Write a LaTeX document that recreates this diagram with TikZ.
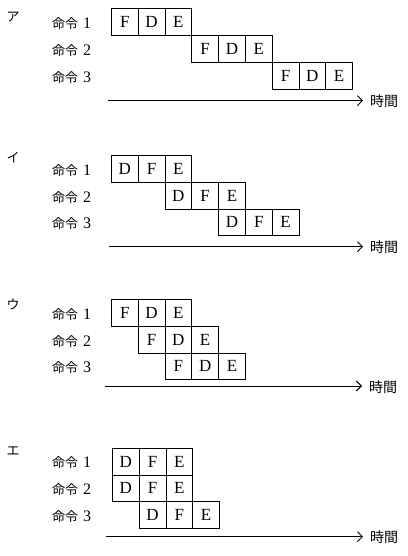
\documentclass[tikz,border=0pt]{standalone}
\usepackage{fontspec}
\newfontfamily\jp{Noto Sans CJK JP}
\newfontfamily\lat{Liberation Serif}
\usetikzlibrary{arrows.meta}
\begin{document}
\begin{tikzpicture}[x=1pt,y=-1pt,
  cell/.style={draw, line width=0.7pt, minimum width=26.8pt, minimum height=26.8pt, inner sep=0pt, anchor=north west, font=\lat\fontsize{17}{17}\selectfont},
  lbl/.style={anchor=west, inner sep=0pt, font=\fontsize{13}{13}\selectfont},
  kana/.style={inner sep=0pt, font=\jp\fontsize{13}{13}\selectfont},
  axis/.style={line width=0.9pt, -{Straight Barb[length=5pt,width=10pt,line width=0.9pt]}},
  tm/.style={anchor=west, inner sep=0pt, font=\jp\fontsize{14}{14}\selectfont}]
\useasboundingbox (0,0) rectangle (407,556);
\newcommand{\mylbl}[1]{{\jp 命令}\hspace{5pt}{\lat\fontsize{16}{16}\selectfont #1}}
% ---------- ア ----------
\node[kana] (ak) at (13,17) {ア};
\node[lbl] (al1) at (52,24) {\mylbl{1}};
\node[lbl] (al2) at (52,50.7) {\mylbl{2}};
\node[lbl] (al3) at (52,77.5) {\mylbl{3}};
\node[cell] (a11) at (111,8.5) {F};
\node[cell] (a12) at (137.8,8.5) {D};
\node[cell] (a13) at (164.6,8.5) {E};
\node[cell] (a21) at (191.4,35.3) {F};
\node[cell] (a22) at (218.2,35.3) {D};
\node[cell] (a23) at (245,35.3) {E};
\node[cell] (a31) at (271.8,62.1) {F};
\node[cell] (a32) at (298.6,62.1) {D};
\node[cell] (a33) at (325.4,62.1) {E};
\coordinate (as) at (108,100.7);
\coordinate (ae) at (363,100.7);
\draw[axis] (as) -- (ae);
\node[tm] (at) at (370,101.5) {時間};
% ---------- イ ----------
\node[kana] (bk) at (13,158) {イ};
\node[lbl] (bl1) at (52,170.4) {\mylbl{1}};
\node[lbl] (bl2) at (52,197.2) {\mylbl{2}};
\node[lbl] (bl3) at (52,224) {\mylbl{3}};
\node[cell] (b11) at (111,155) {D};
\node[cell] (b12) at (137.8,155) {F};
\node[cell] (b13) at (164.6,155) {E};
\node[cell] (b21) at (164.6,181.8) {D};
\node[cell] (b22) at (191.4,181.8) {F};
\node[cell] (b23) at (218.2,181.8) {E};
\node[cell] (b31) at (218.2,208.6) {D};
\node[cell] (b32) at (245,208.6) {F};
\node[cell] (b33) at (271.8,208.6) {E};
\coordinate (bs) at (109,246.7);
\coordinate (be) at (363,246.7);
\draw[axis] (bs) -- (be);
\node[tm] (bt) at (370,247.5) {時間};
% ---------- ウ ----------
\node[kana] (ck) at (13,305) {ウ};
\node[lbl] (cl1) at (52,314.4) {\mylbl{1}};
\node[lbl] (cl2) at (52,341.2) {\mylbl{2}};
\node[lbl] (cl3) at (52,368) {\mylbl{3}};
\node[cell] (c11) at (111,299) {F};
\node[cell] (c12) at (137.8,299) {D};
\node[cell] (c13) at (164.6,299) {E};
\node[cell] (c21) at (137.8,325.8) {F};
\node[cell] (c22) at (164.6,325.8) {D};
\node[cell] (c23) at (191.4,325.8) {E};
\node[cell] (c31) at (164.6,352.6) {F};
\node[cell] (c32) at (191.4,352.6) {D};
\node[cell] (c33) at (218.2,352.6) {E};
\coordinate (cs) at (105,386);
\coordinate (ce) at (362,386);
\draw[axis] (cs) -- (ce);
\node[tm] (ct) at (369,386.8) {時間};
% ---------- エ ----------
\node[kana] (dk) at (13,451) {エ};
\node[lbl] (dl1) at (52,463) {\mylbl{1}};
\node[lbl] (dl2) at (52,490) {\mylbl{2}};
\node[lbl] (dl3) at (52,516.7) {\mylbl{3}};
\node[cell] (d11) at (112,447.7) {D};
\node[cell] (d12) at (138.8,447.7) {F};
\node[cell] (d13) at (165.6,447.7) {E};
\node[cell] (d21) at (112,474.5) {D};
\node[cell] (d22) at (138.8,474.5) {F};
\node[cell] (d23) at (165.6,474.5) {E};
\node[cell] (d31) at (138.8,501.3) {D};
\node[cell] (d32) at (165.6,501.3) {F};
\node[cell] (d33) at (192.4,501.3) {E};
\coordinate (ds) at (106,536.7);
\coordinate (de) at (363,536.7);
\draw[axis] (ds) -- (de);
\node[tm] (dt) at (370,537.5) {時間};
\end{tikzpicture}
\end{document}
